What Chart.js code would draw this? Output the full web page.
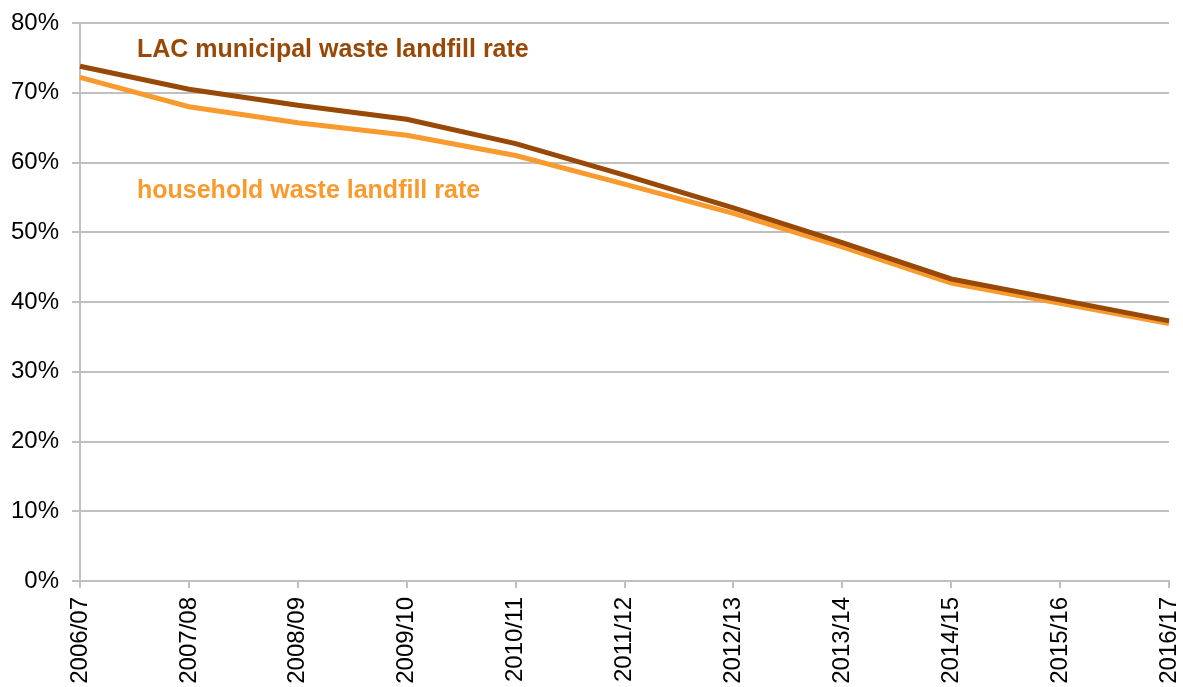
<!DOCTYPE html>
<html>
<head>
<meta charset="utf-8">
<script src="https://cdn.jsdelivr.net/npm/chart.js@4/dist/chart.umd.min.js"></script>
<style>
html,body{margin:0;padding:0;background:#fff;}
#wrap{width:1183px;height:687px;position:relative;}
</style>
</head>
<body>
<div id="wrap"><canvas id="c" width="1183" height="687"></canvas></div>
<script>
const categories = ["2006/07","2007/08","2008/09","2009/10","2010/11","2011/12","2012/13","2013/14","2014/15","2015/16","2016/17"];
const lacMunicipal = [73.8, 70.5, 68.2, 66.2, 62.7, 58.2, 53.5, 48.5, 43.3, 40.3, 37.3];
const household = [72.2, 68.0, 65.7, 63.9, 61.0, 56.9, 52.7, 47.9, 42.7, 39.8, 36.9];
const seriesNames = ["LAC municipal waste landfill rate", "household waste landfill rate"];
const yTicks = [0, 10, 20, 30, 40, 50, 60, 70, 80];

const LAC_COLOR = "#984807";
const HH_COLOR = "#F99A2E";
const GRID = "#c0c0c0";
const FONT = "'Liberation Sans', Arial, sans-serif";

const labelPlugin = {
  id: "seriesLabels",
  afterDatasetsDraw(chart) {
    const ctx = chart.ctx;
    const a = chart.chartArea;
    ctx.save();
    ctx.font = "bold 25px " + FONT;
    ctx.textAlign = "left";
    ctx.textBaseline = "alphabetic";
    ctx.fillStyle = LAC_COLOR;
    ctx.fillText(seriesNames[0], a.left + 57, 57);
    ctx.fillStyle = HH_COLOR;
    ctx.fillText(seriesNames[1], a.left + 57, 198);
    ctx.restore();
  }
};

new Chart(document.getElementById("c"), {
  type: "line",
  data: {
    labels: categories,
    datasets: [
      { label: seriesNames[0], data: lacMunicipal, borderColor: LAC_COLOR, backgroundColor: LAC_COLOR, borderWidth: 5, pointRadius: 0, tension: 0, order: 1 },
      { label: seriesNames[1], data: household, borderColor: HH_COLOR, backgroundColor: HH_COLOR, borderWidth: 5, pointRadius: 0, tension: 0, order: 2 }
    ]
  },
  options: {
    responsive: false,
    animation: false,
    devicePixelRatio: 1,
    layout: { padding: { top: 23, right: 14, left: 0, bottom: 0 } },
    plugins: { legend: { display: false }, tooltip: { enabled: false } },
    scales: {
      x: {
        offset: false,
        grid: { drawOnChartArea: false, drawTicks: true, tickLength: 7, color: GRID, lineWidth: 2 },
        border: { display: true, color: GRID, width: 2 },
        ticks: { minRotation: 90, maxRotation: 90, autoSkip: false, padding: 9, color: "#000", font: { family: FONT, size: 24 } },
        afterFit(s) { s.height = 106; s.paddingLeft = 0; s.paddingRight = 0; }
      },
      y: {
        min: 0, max: 80,
        afterBuildTicks(s) { s.ticks = yTicks.map(v => ({ value: v })); },
        grid: { color: GRID, lineWidth: 2, tickLength: 8, drawTicks: true },
        border: { display: true, color: GRID, width: 2 },
        ticks: { padding: 13, color: "#000", font: { family: FONT, size: 24 }, callback: v => v + "%" },
        afterFit(s) { s.width = 80; s.paddingTop = 0; s.paddingBottom = 0; }
      }
    }
  },
  plugins: [labelPlugin]
});
</script>
</body>
</html>
